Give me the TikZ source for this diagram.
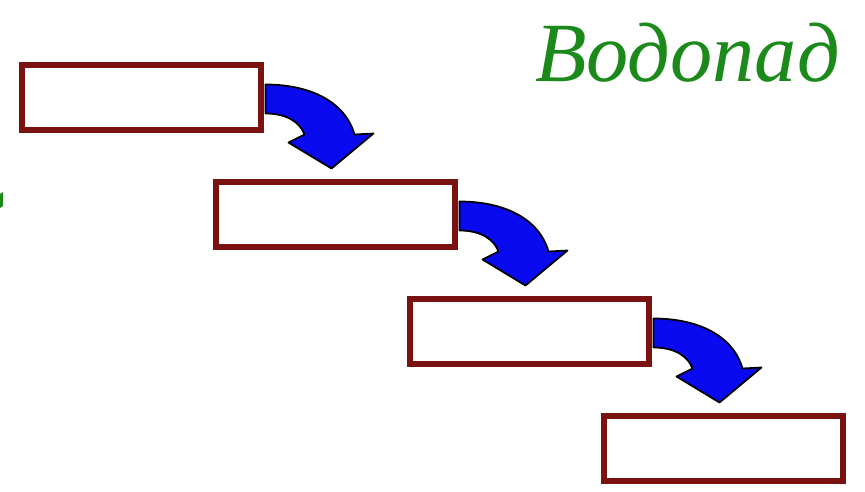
\documentclass[tikz,border=0pt]{standalone}
\usepackage{fontspec}
\setmainfont{Liberation Serif}
\definecolor{framec}{HTML}{7A1212}
\definecolor{flowc}{HTML}{0A0AF0}
\definecolor{titlec}{HTML}{1B8A1B}

\tikzset{
  stage/.style={draw=framec, fill=white, line width=0.12cm, minimum width=4.8cm, minimum height=1.3cm, inner sep=0pt},
  % bent arrow from one stage down to the next
  fall/.pic={
    \filldraw[fill=flowc, draw=black, line width=1pt, line join=round]
      (1,-13) .. controls (47,-13) and (81,5) .. (90,37) -- (109,36) -- (67,71) -- (24,45) -- (40,37)
      .. controls (36,26) and (24,16) .. (1,16) -- cycle;
  }
}

\begin{document}
\begin{tikzpicture}[x=0.02cm, y=-0.02cm]
  \useasboundingbox (0,0) rectangle (865,491);
  \node[text=titlec, font=\itshape\fontsize{48}{50}\selectfont, anchor=base east, inner sep=0pt] (title) at (840,81) {Водопад};
  \fill[titlec] (0,194) -- (3,192) -- (3,206) -- (0,208) -- cycle;
  \foreach \i in {1,...,4}{
    \node[stage] (b\i) at ({141.5+(\i-1)*194},{97.5+(\i-1)*117}) {};
  }
  \foreach \i in {1,2,3}{
    \pic at (b\i.east) {fall};
  }
\end{tikzpicture}
\end{document}
